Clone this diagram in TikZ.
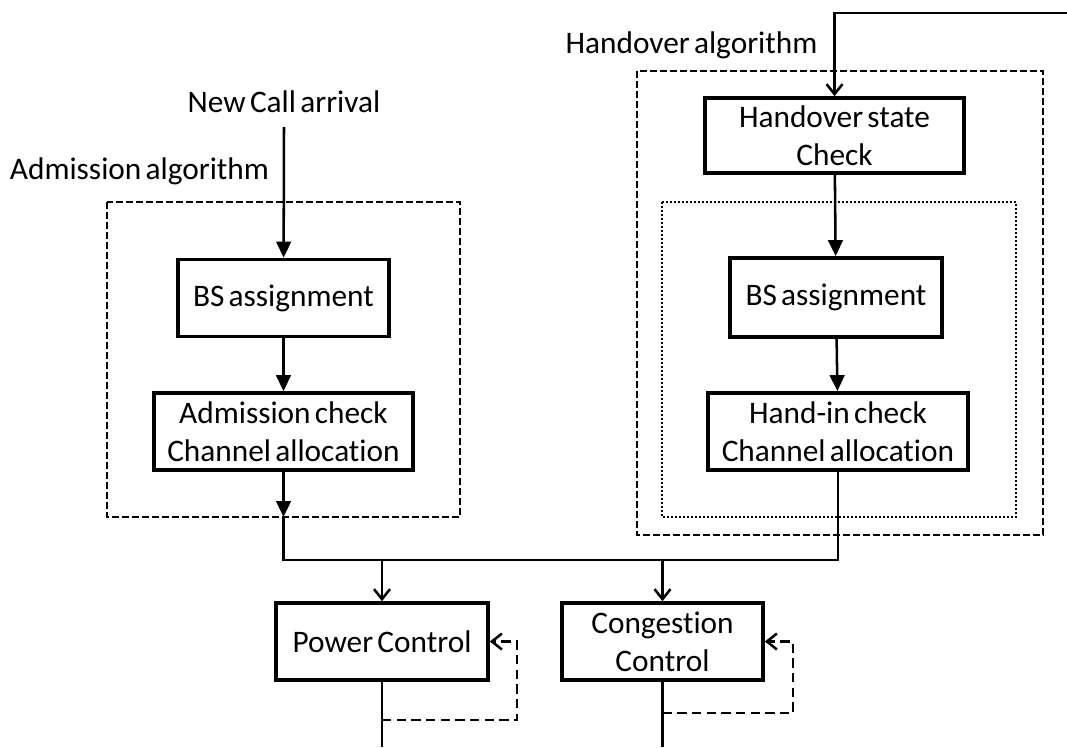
\documentclass[tikz,border=0pt]{standalone}
\usepackage{fontspec}
\setmainfont{Carlito}[WordSpace=0.6,Ligatures=NoCommon]
\usetikzlibrary{arrows.meta}
\newdimen\pxu \pxu=0.75pt

\begin{document}
\begin{tikzpicture}[x=0.75pt,y=-0.75pt,font=\fontsize{23.5}{28.5}\selectfont,
		blk/.style={draw,line width=2.8pt,align=center,inner sep=0pt,minimum height=77\pxu},
		lbl/.style={anchor=base,inner sep=0pt},
		wire/.style={line width=1.9pt},
		flow/.style={wire,-{Triangle[length=12pt,width=11pt]}},
		feed/.style={wire,-{Straight Barb[length=7.5pt,width=12pt]}},
		fbdash/.style={feed,dash pattern=on 7pt off 4pt},
		frame/.style={line width=1.9pt,dash pattern=on 5pt off 2.5pt},
		dotframe/.style={line width=1.9pt,dash pattern=on 1.5pt off 1.5pt}]
	\useasboundingbox (0,0) rectangle (1067,747);
	
	% frames
	\draw[frame] (107,202) rectangle (460,517);
	\draw[frame] (637,71) rectangle (1043,535);
	\draw[dotframe] (662,202) rectangle (1016,517);
	
	\node[lbl] (newcall) at (284,112) {New Call arrival};
	\node[lbl] (admlbl) at (139.5,179) {Admission algorithm};
	\node[lbl] (holbl) at (691.5,53) {Handover algorithm};
	
	\node[blk,minimum width=211\pxu] (bsA) at (283.5,298) {BS assignment};
	\node[blk,minimum width=259\pxu] (admA) at (283.5,431.5) {Admission check\\Channel allocation};
	\node[blk,minimum width=259\pxu,minimum height=75\pxu] (hoS) at (834.5,135.5) {Handover state\\Check};
	\node[blk,minimum width=212\pxu,minimum height=79\pxu] (bsH) at (836,297.5) {BS assignment};
	\node[blk,minimum width=260\pxu] (hin) at (838,431.5) {Hand-in check\\Channel allocation};
	\node[blk,minimum width=212\pxu] (pwr) at (382,641.5) {Power Control};
	\node[blk,minimum width=201\pxu] (cng) at (662.5,641.5) {Congestion\\Control};
	
	\coordinate (admout) at (283.5,517);
	\coordinate (bus) at (0,560);
	\coordinate (hoin) at (1067,13);
	\coordinate (bot) at (0,747);
	\coordinate (pl) at (517,720);
	\coordinate (cl) at (793,713);
	
	% admission side
	\draw[flow] ([yshift=-11.25pt]newcall.base) -- (bsA);
	\draw[flow] (bsA) -- (admA);
	\draw[flow] (admA) -- (admout);
	\draw[wire] (admout) |- (hin.south |- bus) -- (hin);
	
	% handover side
	\draw[feed] (hoin) -| (hoS);
	\draw[flow] (hoS) -- (bsH);
	\draw[flow] (bsH) -- (hin);
	
	% control blocks
	\draw[feed] (pwr.north |- bus) -- (pwr);
	\draw[feed] (cng.north |- bus) -- (cng);
	\draw[wire] (pwr) -- (pwr.south |- bot);
	\draw[wire] (cng) -- (cng.south |- bot);
	\draw[fbdash] (pwr.south |- pl) -- (pl) |- (pwr);
	\draw[fbdash] (cng.south |- cl) -- (cl) |- (cng);
\end{tikzpicture}
\end{document}
